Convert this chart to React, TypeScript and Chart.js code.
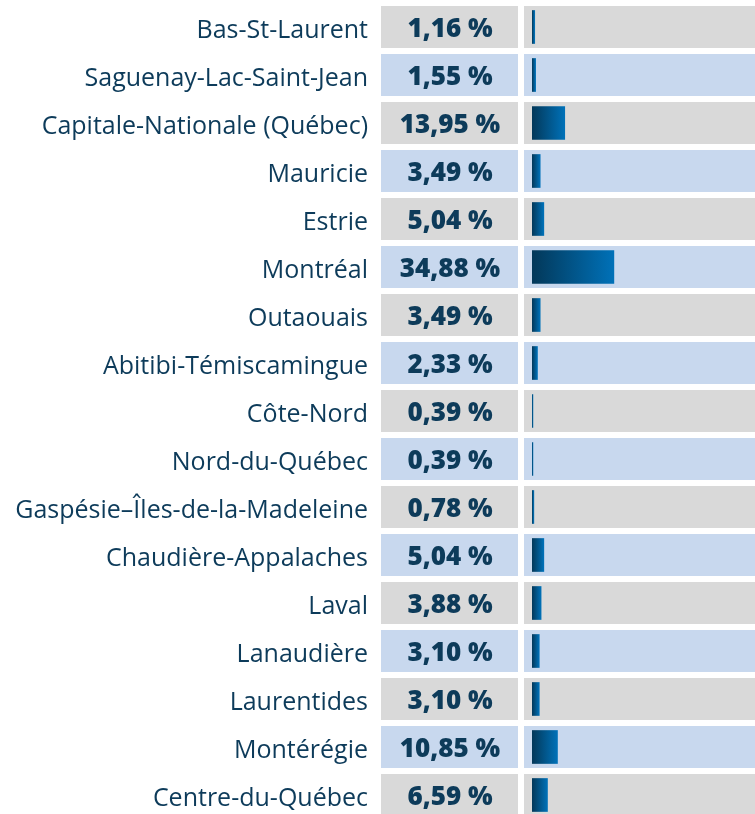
import React, { useEffect, useRef } from "react";
import { Chart, registerables } from "chart.js";

Chart.register(...registerables);

const regions = [
  "Bas-St-Laurent",
  "Saguenay-Lac-Saint-Jean",
  "Capitale-Nationale (Québec)",
  "Mauricie",
  "Estrie",
  "Montréal",
  "Outaouais",
  "Abitibi-Témiscamingue",
  "Côte-Nord",
  "Nord-du-Québec",
  "Gaspésie–Îles-de-la-Madeleine",
  "Chaudière-Appalaches",
  "Laval",
  "Lanaudière",
  "Laurentides",
  "Montérégie",
  "Centre-du-Québec",
];

const shares = [
  1.16, 1.55, 13.95, 3.49, 5.04, 34.88, 3.49, 2.33, 0.39, 0.39, 0.78, 5.04,
  3.88, 3.1, 3.1, 10.85, 6.59,
];

const rowColors = ["#d9d9d9", "#c8d8ee"];
const textColor = "#0d3b5a";

const fmt = (v: number) => v.toFixed(2).replace(".", ",") + " %";

const cellsPlugin = {
  id: "cells",
  beforeDatasetsDraw(chart: any) {
    const { ctx, scales, chartArea } = chart;
    const y = scales.y;
    ctx.save();
    regions.forEach((_, i) => {
      const cy = y.getPixelForValue(i);
      const h = 42;
      ctx.fillStyle = rowColors[i % 2];
      ctx.fillRect(381, cy - h / 2, 137, h);
      ctx.fillRect(chartArea.left - 8, cy - h / 2, chartArea.right - chartArea.left + 8, h);
    });
    ctx.restore();
  },
  afterDatasetsDraw(chart: any) {
    const { ctx, scales } = chart;
    const y = scales.y;
    ctx.save();
    ctx.fillStyle = textColor;
    ctx.font = "800 26px 'Open Sans'";
    ctx.textAlign = "center";
    ctx.textBaseline = "middle";
    shares.forEach((v, i) => {
      ctx.fillText(fmt(v), 450, y.getPixelForValue(i) + 3);
    });
    ctx.restore();
  },
};

export default function App() {
  const ref = useRef<HTMLCanvasElement>(null);
  useEffect(() => {
    document.body.style.margin = "0";
    document.body.style.overflow = "hidden";
    const chart = new Chart(ref.current!, {
      type: "bar",
      data: {
        labels: regions,
        datasets: [
          {
            data: shares,
            barThickness: 33,
            backgroundColor: (c: any) => {
              const x = c.chart.scales.x;
              if (!x || c.raw == null) return "#005a94";
              const x0 = x.getPixelForValue(0);
              const x1 = x.getPixelForValue(c.raw);
              if (!isFinite(x0) || !isFinite(x1)) return "#005a94";
              const g = c.chart.ctx.createLinearGradient(x0, 0, Math.max(x1, x0 + 1), 0);
              g.addColorStop(0, "#033859");
              g.addColorStop(1, "#0071b8");
              return g;
            },
          },
        ],
      },
      options: {
        indexAxis: "y",
        animation: false,
        responsive: false,
        maintainAspectRatio: false,
        layout: { padding: { top: 3, right: 0, bottom: 0, left: 0 } },
        plugins: { legend: { display: false }, tooltip: { enabled: false } },
        scales: {
          x: {
            display: false,
            min: 0,
            max: 95,
          },
          y: {
            grid: { display: false, drawTicks: false },
            border: { display: false },
            afterFit: (s: any) => {
              s.width = 532;
              s.paddingTop = 0;
              s.paddingBottom = 0;
            },
            ticks: {
              padding: 164,
              labelOffset: 4,
              color: textColor,
              font: { family: "'Open Sans'", size: 25 },
            },
          },
        },
      },
      plugins: [cellsPlugin],
    });
    return () => chart.destroy();
  }, []);
  return <canvas ref={ref} width={755} height={819} style={{ display: "block" }} />;
}
